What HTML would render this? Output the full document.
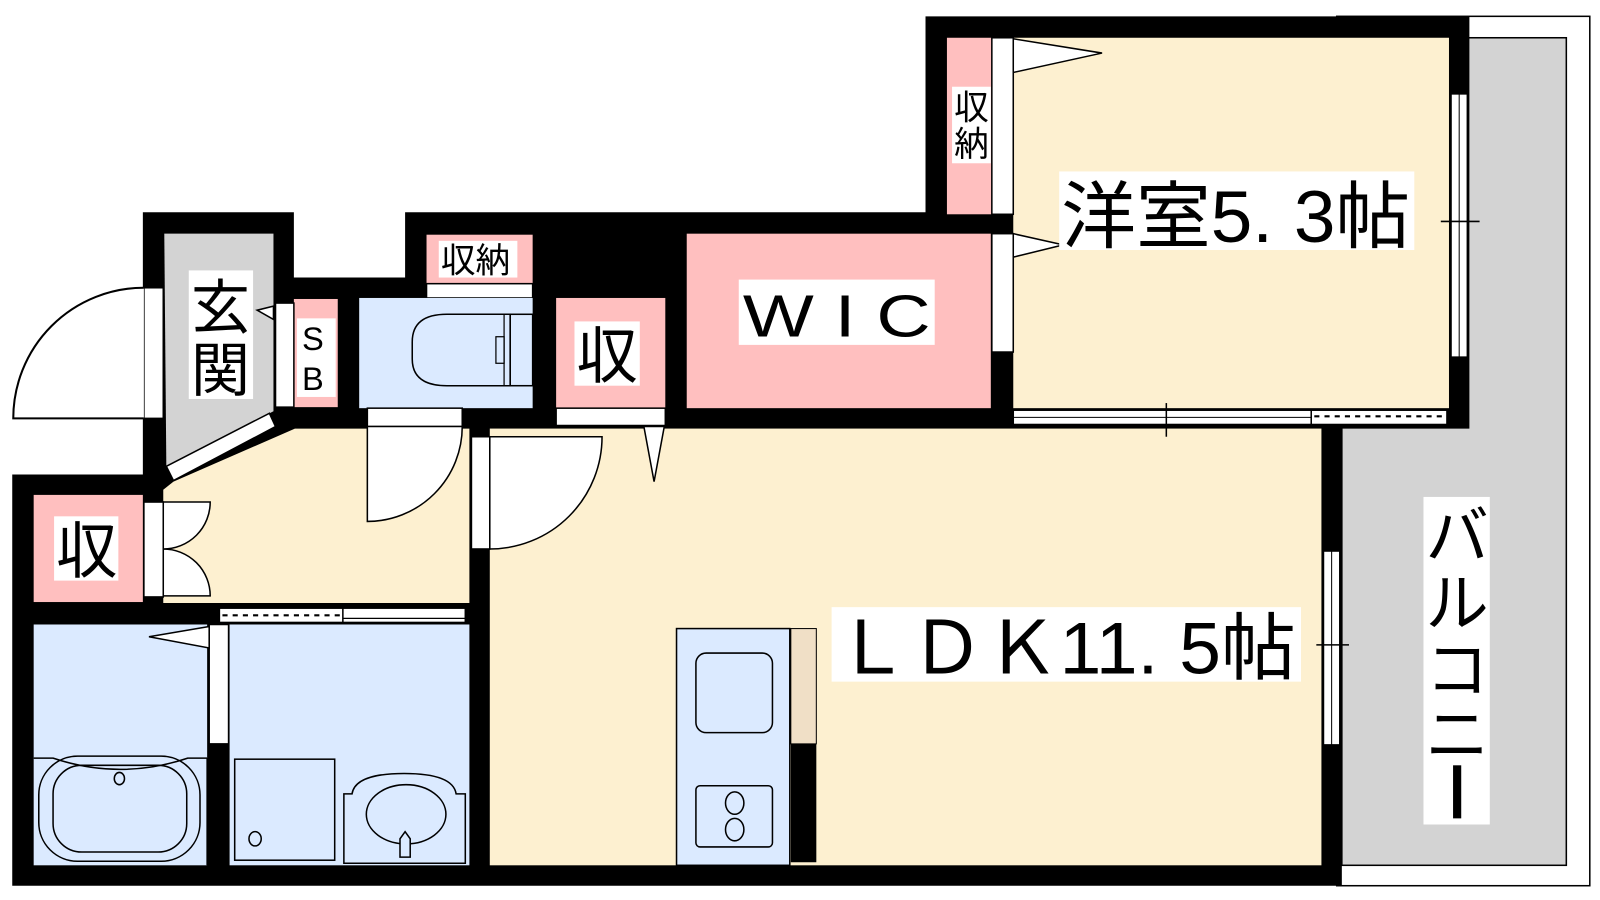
<!DOCTYPE html>
<html><head><meta charset="utf-8"><style>html,body{margin:0;padding:0;background:#fff}svg{display:block}text{font-family:"Liberation Sans","Noto Sans CJK JP",sans-serif;fill:#000}</style></head><body>
<svg width="1600" height="900" viewBox="0 0 1568 882" xmlns="http://www.w3.org/2000/svg">
<rect width="1568" height="882" fill="#fff"/>
<!-- balcony -->
<rect x="1310" y="16" width="248" height="852" fill="#fff" stroke="#000" stroke-width="1.5"/>
<rect x="1315" y="37" width="220" height="811" fill="#d3d3d3" stroke="#000" stroke-width="1.5"/>
<!-- building black -->
<polygon points="907,16 1440,16 1440,420 1315,420 1315,868 12,868 12,465 140,465 140,208 288,208 288,272 397,272 397,208 907,208" fill="#000"/>
<!-- rooms -->
<rect x="993" y="37" width="427" height="363" fill="#fdf0d0"/>
<rect x="928" y="37" width="44" height="173" fill="#ffbfbf"/>
<rect x="972" y="37" width="21" height="173" fill="#fff" stroke="#000" stroke-width="1.5"/>
<rect x="673" y="229" width="298" height="171" fill="#ffbfbf"/>
<rect x="972" y="229" width="21" height="116" fill="#fff" stroke="#000" stroke-width="1.5"/>
<rect x="545" y="292" width="107" height="108" fill="#ffbfbf"/>
<rect x="545" y="400" width="107" height="17" fill="#fff" stroke="#000" stroke-width="1.5"/>
<rect x="418" y="230" width="104" height="48" fill="#ffbfbf"/>
<rect x="418" y="278" width="104" height="14" fill="#fff" stroke="#000" stroke-width="1.5"/>
<rect x="352" y="292" width="170" height="108" fill="#dbeaff"/>
<rect x="360" y="400" width="93" height="18" fill="#fff" stroke="#000" stroke-width="1.5"/>
<!-- LDK + hall -->
<rect x="480" y="420" width="815" height="428" fill="#fdf0d0"/>
<polygon points="160,480 170,472 289,420 460,420 460,591 160,591" fill="#fdf0d0"/>
<rect x="462" y="428" width="18" height="110" fill="#fff" stroke="#000" stroke-width="1.5"/>
<!-- genkan -->
<polygon points="161,229 268,229 268,403 163,457" fill="#d3d3d3"/>
<polygon points="163,457 264,405 270,418 170,471" fill="#fff" stroke="#000" stroke-width="1.5"/>
<rect x="141" y="282" width="19" height="128" fill="#fff" stroke="#000" stroke-width="1.5"/>
<path d="M141,282 A128,128 0 0 0 13,410 L141,410" fill="#fff" stroke="#000" stroke-width="2"/>
<rect x="288" y="293" width="43" height="106" fill="#ffbfbf"/>
<rect x="270" y="297" width="18" height="102" fill="#fff" stroke="#000" stroke-width="1.5"/>
<polygon points="268,300 252,304 268,313" fill="#fff" stroke="#000" stroke-width="1.5"/>
<!-- left closet -->
<rect x="33" y="485" width="107" height="105" fill="#ffbfbf"/>
<rect x="141" y="492" width="19" height="93" fill="#fff" stroke="#000" stroke-width="1.5"/>
<path d="M160,492 H206 A46,46 0 0 1 160,538 Z M160,584 H206 A46,46 0 0 0 160,538 Z" fill="#fff" stroke="#000" stroke-width="1.5"/>
<!-- window bath/hall -->
<rect x="215" y="596" width="241" height="14" fill="#fff" stroke="#000" stroke-width="1.5"/>
<line x1="336" y1="596" x2="336" y2="610" stroke="#000" stroke-width="1.5"/>
<line x1="218" y1="603" x2="334" y2="603" stroke="#000" stroke-width="2" stroke-dasharray="5,5"/>
<line x1="336" y1="606" x2="456" y2="606" stroke="#000" stroke-width="1.2"/>
<!-- bath & wash -->
<rect x="33" y="612" width="170" height="236" fill="#dbeaff"/>
<rect x="225" y="612" width="235" height="236" fill="#dbeaff"/>
<rect x="205" y="612" width="19" height="117" fill="#fff" stroke="#000" stroke-width="1.5"/>
<polygon points="205,614 146,624 205,635" fill="#fff" stroke="#000" stroke-width="1.5"/>
<path d="M33,743 L52,743 Q118,765 184,743 L203,743" fill="none" stroke="#000" stroke-width="1.5"/>
<line x1="203" y1="743" x2="203" y2="848" stroke="#000" stroke-width="1.5"/>
<rect x="38" y="741" width="158" height="103" rx="38" fill="none" stroke="#000" stroke-width="1.5"/>
<rect x="52" y="750" width="131" height="85" rx="28" fill="none" stroke="#000" stroke-width="1.5"/>
<ellipse cx="117" cy="763" rx="5" ry="6" fill="none" stroke="#000" stroke-width="1.5"/>
<rect x="230" y="744" width="98" height="99" fill="none" stroke="#000" stroke-width="1.5"/>
<ellipse cx="250" cy="822" rx="6" ry="7" fill="none" stroke="#000" stroke-width="1.5"/>
<path d="M337,846 V778 H345 Q348,758 396,758 Q444,758 447,778 H456 V846 Z" fill="none" stroke="#000" stroke-width="1.5"/>
<ellipse cx="398" cy="798" rx="39" ry="29" fill="none" stroke="#000" stroke-width="1.5"/>
<path d="M392,840 V822 L397,815 L402,822 V840 Z" fill="#dbeaff" stroke="#000" stroke-width="1.5"/>
<!-- toilet -->
<path d="M500,308 H438 Q404,308 404,335 V352 Q404,378 438,378 H500 Z" fill="none" stroke="#000" stroke-width="1.5"/>
<rect x="500" y="308" width="22" height="70" fill="none" stroke="#000" stroke-width="1.5"/>
<rect x="486" y="330" width="8" height="26" fill="none" stroke="#000" stroke-width="1.2"/>
<line x1="494" y1="308" x2="494" y2="378" stroke="#000" stroke-width="1.2"/>
<!-- kitchen -->
<rect x="663" y="616" width="111" height="232" fill="#dbeaff" stroke="#000" stroke-width="1.5"/>
<rect x="775" y="616" width="25" height="113" fill="#f0dfc6" stroke="#000" stroke-width="1"/>
<rect x="775" y="729" width="25" height="116" fill="#000"/>
<rect x="682" y="640" width="75" height="78" rx="10" fill="none" stroke="#000" stroke-width="1.5"/>
<rect x="682" y="770" width="75" height="60" rx="4" fill="none" stroke="#000" stroke-width="1.5"/>
<ellipse cx="720" cy="787" rx="9" ry="11" fill="none" stroke="#000" stroke-width="1.5"/>
<ellipse cx="720" cy="813" rx="9" ry="11" fill="none" stroke="#000" stroke-width="1.5"/>
<!-- windows -->
<rect x="1297" y="540" width="16" height="190" fill="#fff" stroke="#000" stroke-width="1.5"/>
<line x1="1305" y1="540" x2="1305" y2="730" stroke="#000" stroke-width="1"/>
<line x1="1290" y1="632" x2="1322" y2="632" stroke="#000" stroke-width="1.5"/>
<rect x="1422" y="92" width="16" height="258" fill="#fff" stroke="#000" stroke-width="1.5"/>
<line x1="1430" y1="92" x2="1430" y2="350" stroke="#000" stroke-width="1"/>
<line x1="1412" y1="217" x2="1450" y2="217" stroke="#000" stroke-width="1.5"/>
<rect x="993" y="402" width="425" height="14" fill="#fff" stroke="#000" stroke-width="1.5"/>
<line x1="993" y1="409" x2="1285" y2="409" stroke="#000" stroke-width="1"/>
<rect x="1285" y="402" width="133" height="14" fill="#fff" stroke="#000" stroke-width="1.5"/>
<line x1="1288" y1="408" x2="1415" y2="408" stroke="#000" stroke-width="2" stroke-dasharray="5,5"/>
<line x1="1143" y1="395" x2="1143" y2="428" stroke="#000" stroke-width="1.5"/>
<!-- door wedges -->
<polygon points="993,38 1080,52 993,71" fill="#fff" stroke="#000" stroke-width="1.5"/>
<polygon points="993,229 1042,240 993,252" fill="#fff" stroke="#000" stroke-width="1.5"/>
<polygon points="631,418 651,418 641,472" fill="#fff" stroke="#000" stroke-width="1.5"/>
<!-- door arcs -->
<path d="M360,418 H453 A93,93 0 0 1 360,511 Z" fill="#fff" stroke="#000" stroke-width="1.5"/>
<path d="M480,428 H590 A110,110 0 0 1 480,538 Z" fill="#fff" stroke="#000" stroke-width="1.5"/>
<!-- labels -->
<rect x="1038" y="168" width="348" height="77" fill="#fff"/>
<text x="1040" y="237" font-size="72" textLength="342" lengthAdjust="spacingAndGlyphs">洋室5. 3帖</text>
<rect x="724" y="274" width="192" height="64" fill="#fff"/>
<text x="728" y="330" font-size="58" textLength="184" lengthAdjust="spacingAndGlyphs">W I C</text>
<rect x="815" y="595" width="460" height="73" fill="#fff"/>
<text x="818" y="660" font-size="72" textLength="452" lengthAdjust="spacingAndGlyphs">ＬＤＫ11. 5帖</text>
<rect x="563" y="315" width="64" height="63" fill="#fff"/>
<text x="565" y="370" font-size="60">収</text>
<rect x="53" y="506" width="63" height="63" fill="#fff"/>
<text x="55" y="561" font-size="60">収</text>
<rect x="430" y="236" width="77" height="36" fill="#fff"/>
<text x="432" y="267" font-size="34">収納</text>
<rect x="933" y="85" width="38" height="75" fill="#fff"/>
<text x="935" y="117" font-size="34">収</text>
<text x="935" y="153" font-size="34">納</text>
<rect x="185" y="265" width="63" height="126" fill="#fff"/>
<text x="187" y="322" font-size="58">玄</text>
<text x="187" y="383" font-size="58">関</text>
<rect x="291" y="312" width="38" height="77" fill="#fff"/>
<text x="296" y="343" font-size="32">S</text>
<text x="296" y="382" font-size="32">B</text>
<rect x="1395" y="487" width="65" height="321" fill="#fff"/>
<text x="1397" y="547" font-size="62">バ</text>
<text x="1397" y="613" font-size="62">ル</text>
<text x="1397" y="678" font-size="62">コ</text>
<text x="1397" y="742" font-size="62">ニ</text>
<rect x="1424" y="750" width="8" height="52" fill="#000"/>
</svg>
</body></html>
